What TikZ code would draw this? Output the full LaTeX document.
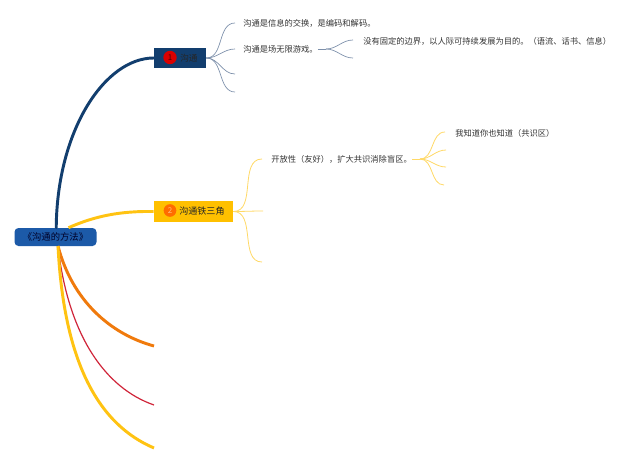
\documentclass[tikz,border=0pt]{standalone}
\usepackage{fontspec}
\setmainfont{Noto Sans CJK SC}
\begin{document}
\begin{tikzpicture}[x=0.75pt,y=-0.75pt,
  txt/.style={anchor=west,inner sep=0pt,font=\fontsize{6.2}{7}\selectfont,text=black!80},
  bluesub/.style={draw=navysub,line width=0.5pt},
  yelsub/.style={draw=yelsub,line width=0.6pt},
  fan/.style={out=0,in=180}
]
\definecolor{navybr}{HTML}{123E6E}
\definecolor{navysub}{HTML}{7C8FAA}
\definecolor{centerblue}{HTML}{1C5AA8}
\definecolor{ambr}{HTML}{FFC000}
\definecolor{yelsub}{HTML}{FFD966}
\definecolor{orangebr}{HTML}{F07A0C}
\definecolor{redbr}{HTML}{D0253A}
\definecolor{yellowbr}{HTML}{FFC312}
\useasboundingbox[fill=white] (0,0) rectangle (640,464);

% main nodes
\node[draw=none,fill=centerblue,rounded corners=3pt,minimum width=61.5pt,minimum height=13.5pt,inner sep=0pt,
  font=\fontsize{7}{8}\selectfont,text=black!85!blue] (c) at (55.5,237) {《沟通的方法》};
\node[fill=navybr,minimum width=39pt,minimum height=15pt,inner sep=0pt] (n1) at (180,58) {};
\node[fill=ambr,minimum width=59.5pt,minimum height=15.5pt,inner sep=0pt] (n2) at (193.5,211.5) {};
\node[circle,fill=red!85!black,minimum size=10pt,inner sep=0pt,font=\fontsize{6}{7}\selectfont,text=black!70!red] (b1) at (170,57.5) {1};
\node[anchor=west,inner sep=0pt,font=\fontsize{6.5}{7}\selectfont,text=black!85] (t1) at (180,58) {沟通};
\node[circle,fill=orange!85!red,minimum size=9.5pt,inner sep=0pt,font=\fontsize{6}{7}\selectfont,text=orange!50!white] (b2) at (170,210.5) {2};
\node[anchor=west,inner sep=0pt,font=\fontsize{6.8}{8}\selectfont,text=black!85] (t2) at (179,211) {沟通铁三角};

% free ends of the lower branches
\coordinate (e3) at (154,346);
\coordinate (e4) at (154,405);
\coordinate (e5) at (154,448);

% main branches
\draw[navybr,line width=2.2pt,line cap=round] (c.north west) ++(42,0) coordinate (s1)
  (s1) .. controls (57,130) and (105,58) .. (n1.west);
\draw[yellowbr,line width=2.2pt] (c.north) ++(13,0) coordinate (s2)
  (s2) .. controls (95,216) and (120,211) .. (n2.west);
\coordinate (s3) at (58,246);
\draw[orangebr,line width=2.2pt] (s3) .. controls (72,300) and (110,334) .. (e3);
\draw[redbr,line width=0.9pt] (s3) .. controls (68,335) and (105,388) .. (e4);
\draw[yellowbr,line width=2.2pt] (s3) .. controls (64,365) and (100,425) .. (e5);

% sub-branches of node 1
\coordinate (a1) at (235,23);
\coordinate (a2) at (235,49);
\coordinate (a3) at (235,74);
\coordinate (a4) at (235,92);
\foreach \e in {a1,a2,a3,a4}
  \draw[bluesub] (n1.east) to[fan] (\e);
\node[txt] (s11) at (243,23) {沟通是信息的交换，是编码和解码。};
\node[txt] (s12) at (243,49) {沟通是场无限游戏。};
\coordinate (o12) at (326,49);
\coordinate (a5) at (353,40);
\coordinate (a6) at (353,58);
\draw[bluesub] (s12.east) -- (o12);
\draw[bluesub] (o12) to[fan] (a5);
\draw[bluesub] (o12) to[fan] (a6);
\node[txt] (s121) at (363,41) {没有固定的边界，以人际可持续发展为目的。（语流、话书、信息）};

% sub-branches of node 2
\coordinate (b1e) at (262,159);
\coordinate (b2e) at (263,211);
\coordinate (b3e) at (262,262);
\foreach \e in {b1e,b2e,b3e}
  \draw[yelsub] (n2.east) to[fan] (\e);
\node[txt] (s21) at (271,159) {开放性（友好），扩大共识消除盲区。};
\coordinate (o21) at (420,159);
\coordinate (d1) at (445,132);
\coordinate (d2) at (446,150);
\coordinate (d3) at (446,167);
\coordinate (d4) at (444,185);
\draw[yelsub] (s21.east) -- (o21);
\foreach \e in {d1,d2,d3,d4}
  \draw[yelsub] (o21) to[fan] (\e);
\node[txt] (s211) at (455,133) {我知道你也知道（共识区）};
\end{tikzpicture}
\end{document}
